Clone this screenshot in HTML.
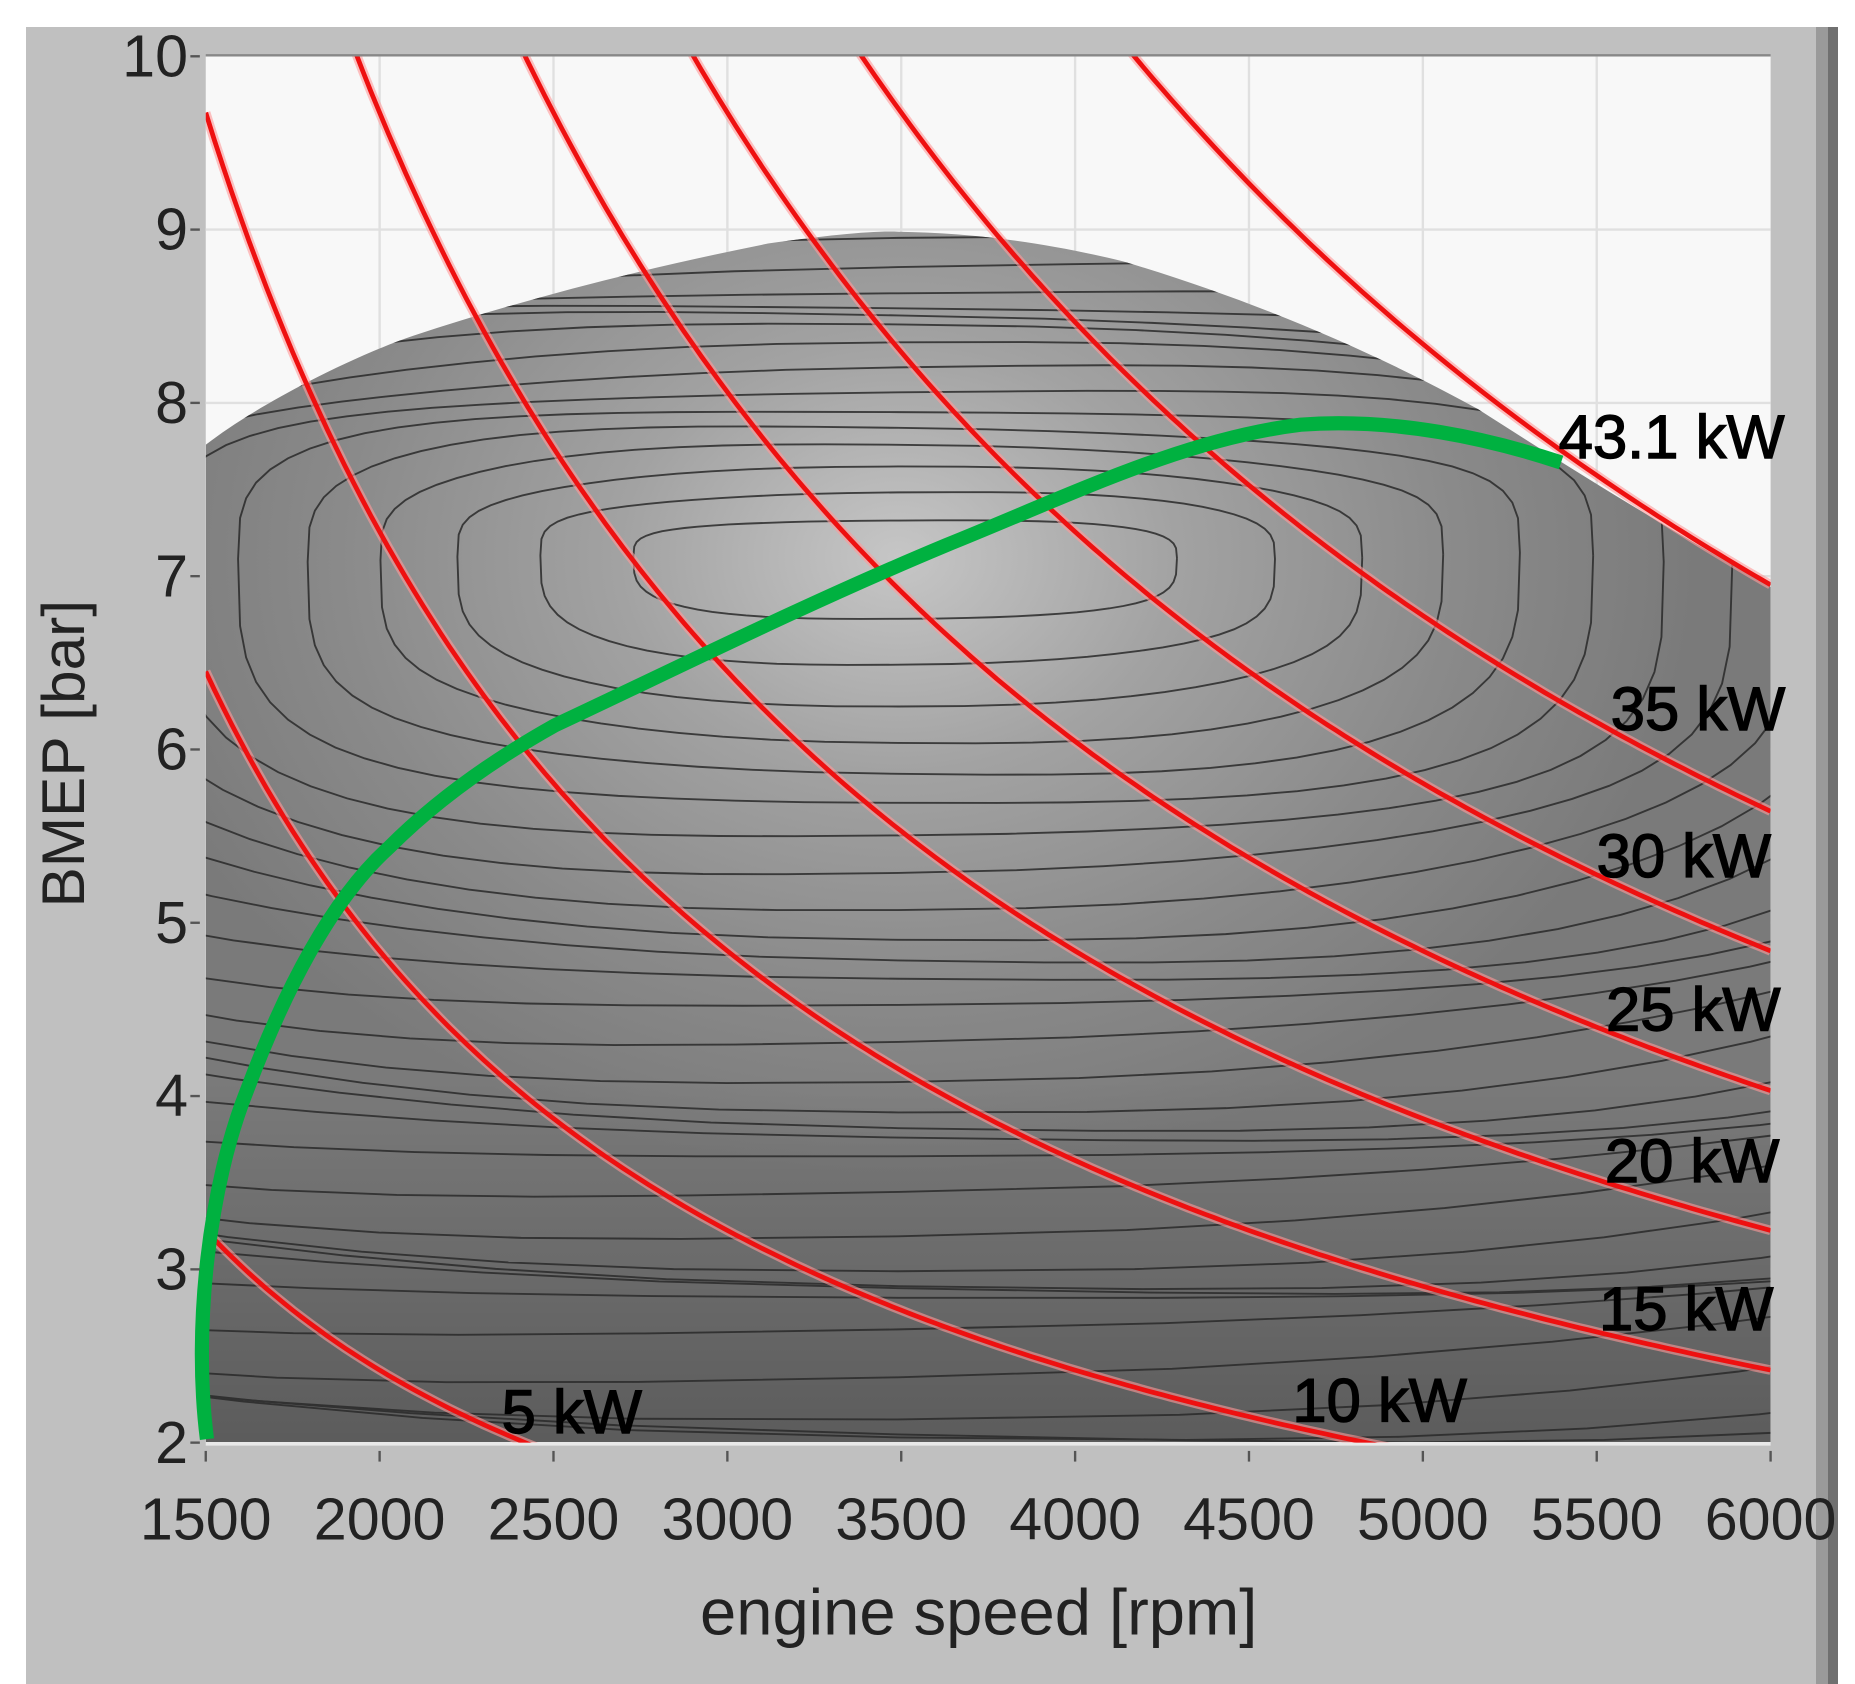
<!DOCTYPE html>
<html><head><meta charset="utf-8"><style>
html,body{margin:0;padding:0;background:#fff;}
svg{display:block;}
text{font-family:"Liberation Sans","DejaVu Sans",sans-serif;}
</style></head><body>
<svg id="s" width="1855" height="1684" viewBox="0 0 1855 1684" xmlns="http://www.w3.org/2000/svg">
<defs>
<radialGradient id="rg" gradientUnits="userSpaceOnUse" cx="760" cy="470" r="520" gradientTransform="translate(760 470) scale(1.3 1) translate(-760 -470)">
<stop offset="0" stop-color="#c6c6c6"/><stop offset="0.35" stop-color="#a2a2a2"/><stop offset="0.7" stop-color="#8a8a8a"/><stop offset="1" stop-color="#7a7a7a"/></radialGradient>
<linearGradient id="lg" x1="0" y1="0" x2="0" y2="1"><stop offset="0.7" stop-color="#000" stop-opacity="0"/><stop offset="1" stop-color="#000" stop-opacity="0.25"/></linearGradient>
<clipPath id="cp"><path id="surfp" d="M175,375 C220,340 300,300 350,283 C450,250 550,225 650,205 C700,198 740,194 760,195 C820,196 880,203 950,220 C1050,250 1150,290 1250,345 C1320,390 1400,440 1497,495 L1497,1218 L175,1218 Z"/></clipPath>
<clipPath id="pc"><rect x="175" y="47" width="1322" height="1171"/></clipPath>
</defs>
<rect x="26" y="27" width="1812" height="1660" fill="#c0c0c0"/>
<rect x="1816" y="27" width="12" height="1660" fill="#9a9a9a"/>
<rect x="1828" y="27" width="10" height="1660" fill="#707070"/>
<g transform="matrix(1.1837,0,0,1.1837,-1.4,0.9)">
<rect x="175" y="47" width="1322" height="1171" fill="#f8f8f8"/>
<g id="grid" stroke="#e0e0e0" stroke-width="2"></g>
<line x1="175" y1="46" x2="1497" y2="46" stroke="#888" stroke-width="2"/>
<g clip-path="url(#cp)">
<rect x="175" y="190" width="1322" height="1030" fill="url(#rg)"/>
<rect x="175" y="190" width="1322" height="1030" fill="url(#lg)"/>
<g id="cont" fill="none" stroke="#2a2a2a" stroke-width="1.6" opacity="0.85"></g>
</g>
<line x1="175" y1="1219" x2="1497" y2="1219" stroke="#e8e8e8" stroke-width="3"/>
<g clip-path="url(#pc)" id="red" fill="none"></g>
<path d="M176,1215 C164,1120 178,1000 210,920 C240,840 280,760 330,715 C370,675 420,640 470,612 C560,570 680,510 800,460 C900,420 1000,370 1100,358 C1180,352 1260,370 1320,390" fill="none" stroke="#00b140" stroke-width="12" stroke-linecap="butt"/>
<g id="ticks" stroke="#555" stroke-width="2"></g>
<g font-size="50" fill="#222" id="tl"></g>
<text x="828" y="1380" font-size="55" fill="#222" text-anchor="middle">engine speed [rpm]</text>
<text transform="translate(72 636) rotate(-90)" font-size="51" fill="#222" text-anchor="middle">BMEP [bar]</text>
<g font-size="52" fill="#000" stroke="#000" stroke-width="1.2">
<text x="1318" y="386">43.1 kW</text>
<text x="1362" y="616">35 kW</text>
<text x="1350" y="740">30 kW</text>
<text x="1358" y="870">25 kW</text>
<text x="1357" y="998">20 kW</text>
<text x="1352" y="1123">15 kW</text>
<text x="1093" y="1200">10 kW</text>
<text x="425" y="1210">5 kW</text>
</g>
</g>
</svg>
<script>
(function(){
var NS="http://www.w3.org/2000/svg";
function X(r){return 175+(r-1500)/4500*1322;}
function Y(b){return 1218-(b-2)*146.4;}
function el(p,t,a){var e=document.createElementNS(NS,t);for(var k in a)e.setAttribute(k,a[k]);p.appendChild(e);return e;}
var g=document.getElementById('grid');
for(var r=2000;r<6000;r+=500)el(g,'line',{x1:X(r),y1:47,x2:X(r),y2:1218});
for(var b=3;b<10;b++)el(g,'line',{x1:175,y1:Y(b),x2:1497,y2:Y(b)});
var c=document.getElementById('cont');
var cx=760,cy=470,N=30;
for(var k=1;k<=N;k++){
 var ry=745*Math.pow(k/N,0.78), rx=ry*2.2+120;
 var d='';
 for(var i=0;i<=72;i++){
  var t=i/72*2*Math.PI, s=Math.sin(t), co=Math.cos(t);
  var sx=Math.sign(co)*Math.pow(Math.abs(co),0.8), sy=Math.sign(s)*Math.pow(Math.abs(s),0.55);
  var x=cx+rx*sx*(co>0?1.0:0.95);
  var y=cy+(s>0?ry:0.6*ry)*sy + 25*Math.sin(3*t+k)*(k/N);
  d+=(i?'L':'M')+x.toFixed(1)+','+y.toFixed(1);
 }
 el(c,'path',{d:d});
}
var red=document.getElementById('red');
var P=[5,10,15,20,25,30,35,43.1];
P.forEach(function(p){
 var C=967.5*p,d='';
 for(var r=1500;r<=6000;r+=25){var b=C/r;var y=Y(Math.min(b,10.5));d+=(r==1500?'M':'L')+X(r).toFixed(1)+','+y.toFixed(1);}
 el(red,'path',{d:d,stroke:'#ff9a9a','stroke-width':8,opacity:0.6});
 el(red,'path',{d:d,stroke:'#ee1010','stroke-width':4});
});
var tk=document.getElementById('ticks'),tl=document.getElementById('tl');
for(var r=1500;r<=6000;r+=500){el(tk,'line',{x1:X(r),y1:1225,x2:X(r),y2:1234});var t=el(tl,'text',{x:X(r),y:1300,'text-anchor':'middle'});t.textContent=r;}
for(var b=2;b<=10;b++){el(tk,'line',{x1:162,y1:Y(b),x2:170,y2:Y(b)});var t=el(tl,'text',{x:160,y:Y(b)+17,'text-anchor':'end'});t.textContent=b;}
})();
</script>
</body></html>
